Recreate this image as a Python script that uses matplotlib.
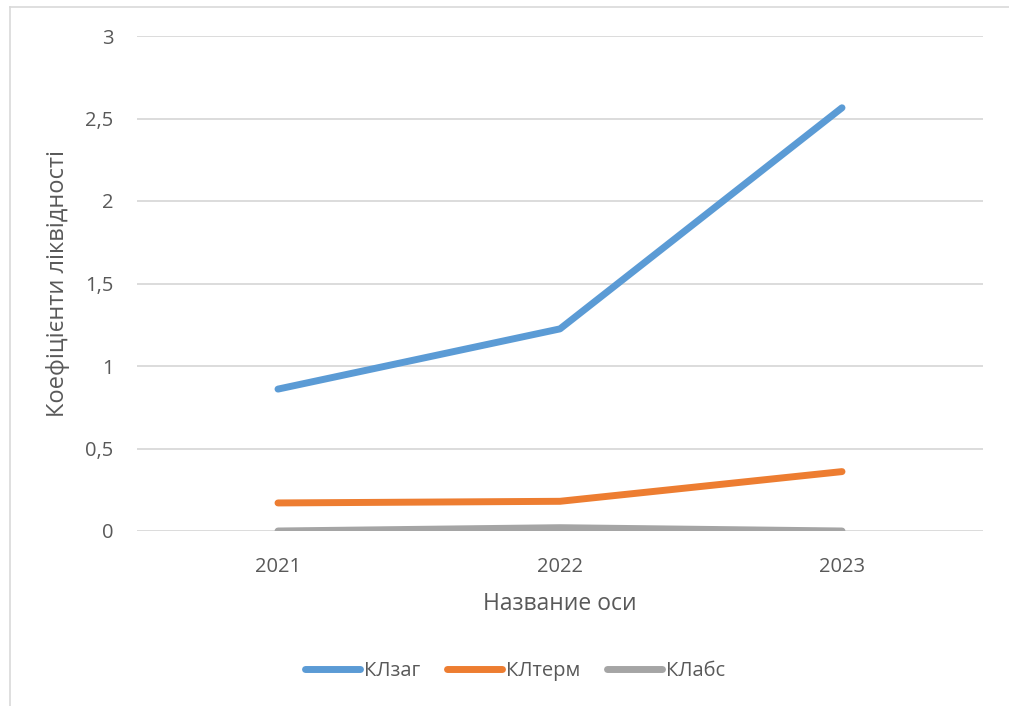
import numpy as np
import matplotlib
matplotlib.use('Agg')
import matplotlib.pyplot as plt
from matplotlib.lines import Line2D
from matplotlib.ticker import FuncFormatter

plt.rcParams['font.family'] = ['Open Sans', 'DejaVu Sans']

years = ['2021', '2022', '2023']
kl_zag = [0.86, 1.225, 2.565]
kl_term = [0.17, 0.18, 0.36]
kl_abs = [0.0, 0.02, 0.0]
series_names = ['КЛзаг', 'КЛтерм', 'КЛабс']
series_colors = ['#5B9BD5', '#ED7D31', '#A5A5A5']

text_c = '#595959'
grid_c = '#D9D9D9'

fig = plt.figure(figsize=(10.09, 7.06), dpi=100)
ax = fig.add_axes([137/1009, 1-531/706, 846/1009, 495/706])

x = np.arange(len(years))
for vals, name, col in zip([kl_zag, kl_term, kl_abs], series_names, series_colors):
    ax.plot(x, vals, color=col, lw=5, solid_capstyle='round',
            solid_joinstyle='round', label=name, zorder=3)

ax.set_xlim(-0.5, len(years) - 0.5)
ax.set_ylim(0, 3)
ax.set_yticks(np.arange(0, 3.01, 0.5))
ax.yaxis.set_major_formatter(FuncFormatter(
    lambda v, p: ('%g' % v).replace('.', ',')))
ax.set_xticks(x)
ax.set_xticklabels(years)
ax.grid(axis='y', color=grid_c, lw=1.3)
ax.set_axisbelow(True)
for s in ax.spines.values():
    s.set_visible(False)
ax.tick_params(length=0, labelsize=14.5, labelcolor=text_c)
ax.tick_params(axis='y', pad=17)
ax.tick_params(axis='x', pad=19)

ax.set_xlabel('Название оси', fontsize=16.5, color=text_c, labelpad=10.5)
ax.set_ylabel('Коефіцієнти ліквідності', fontsize=17, color=text_c,
              labelpad=11)

leg = fig.legend(loc='center', bbox_to_anchor=(515/1009, 1-671/706),
                 ncol=3, frameon=False, fontsize=14.5, handlelength=2.75,
                 handletextpad=0.2, columnspacing=1.3)
for t in leg.get_texts():
    t.set_color(text_c)
for h in leg.get_lines():
    h.set_linewidth(5)
    h.set_solid_capstyle('round')

# chart area border
bc = '#D9D9D9'
fig.add_artist(Line2D([10/1009, 1.0], [1-7/706, 1-7/706], color=bc, lw=1.2,
                      transform=fig.transFigure))
fig.add_artist(Line2D([10/1009, 10/1009], [0.0, 1-7/706], color=bc, lw=1.2,
                      transform=fig.transFigure))

fig.savefig('out.png', dpi=100)
